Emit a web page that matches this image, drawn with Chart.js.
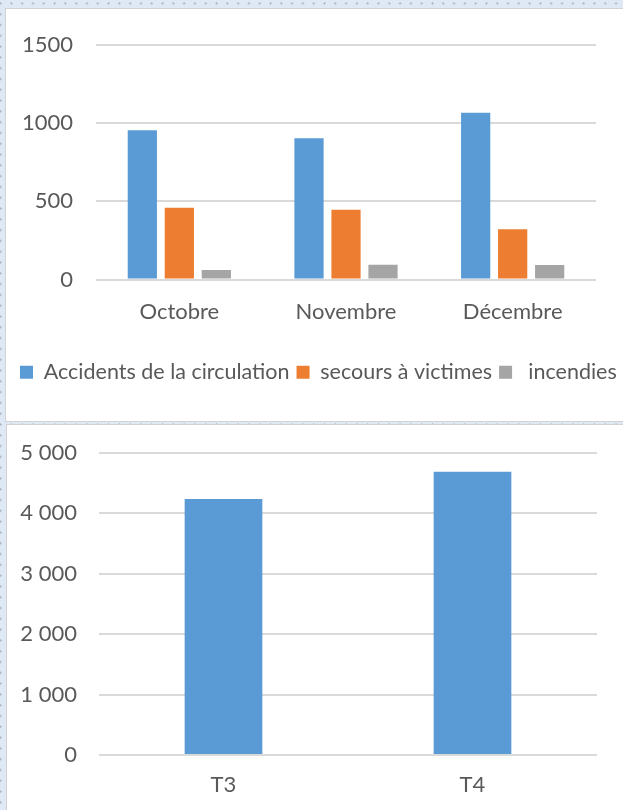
<!DOCTYPE html>
<html lang="fr">
<head>
<meta charset="utf-8">
<title>Interventions</title>
<script src="https://cdn.jsdelivr.net/npm/chart.js@4.4.0/dist/chart.umd.min.js"></script>
<style>
  html, body { margin: 0; padding: 0; }
  body {
    width: 623px;
    height: 810px;
    overflow: hidden;
    position: relative;
    background-color: #dfe9f5;
    background-image: radial-gradient(circle, #aeb8c3 0.9px, transparent 1.4px);
    background-size: 10.8px 10.8px;
    background-position: 6px -2px;
  }
  .panel {
    position: absolute;
    background: #fff;
    border: 1px solid #d2d2d2;
    box-sizing: border-box;
  }
  #p1 { left: 5px; top: 8px; width: 640px; height: 414px; }
  #p2 { left: 6px; top: 424px; width: 640px; height: 400px; }
  canvas { position: absolute; }
  #mois { left: 5px; top: 8px; }
  #trim { left: 6px; top: 417px; }
</style>
</head>
<body>
<div class="panel" id="p1"></div>
<div class="panel" id="p2"></div>
<canvas id="mois" width="630" height="412"></canvas>
<canvas id="trim" width="630" height="393"></canvas>
<script>
// interventions par mois
const mois = ['Octobre', 'Novembre', 'Décembre'];
const accidents = [955, 904, 1066];
const secours = [459, 446, 321];
const incendies = [60, 94, 92];
const ticksMois = [0, 500, 1000, 1500];

// total par trimestre
const trimestres = ['T3', 'T4'];
const totaux = [4238, 4690];
const ticksTrim = [0, 1000, 2000, 3000, 4000, 5000];

const gris = '#595959';
const grille = '#d9d9d9';

Chart.defaults.font.family = 'Lato, "Liberation Sans", sans-serif';
Chart.defaults.font.size = 22;
Chart.defaults.color = gris;
Chart.defaults.animation = false;

function milliers(v) {
  return String(v).replace(/\B(?=(\d{3})+(?!\d))/g, ' ');
}

new Chart(document.getElementById('mois'), {
  type: 'bar',
  data: {
    labels: mois,
    datasets: [
      { label: 'Accidents de la circulation', data: accidents, backgroundColor: '#5b9bd5' },
      { label: 'secours à victimes', data: secours, backgroundColor: '#ed7d31' },
      { label: ' incendies', data: incendies, backgroundColor: '#a5a5a5' }
    ]
  },
  options: {
    responsive: false,
    layout: { padding: { top: 37, left: 8, right: 0, bottom: 27 } },
    datasets: { bar: { categoryPercentage: 0.666, barPercentage: 0.79, borderWidth: 0 } },
    plugins: {
      tooltip: { enabled: false },
      legend: {
        position: 'bottom',
        align: 'start',
        labels: { boxWidth: 13, boxHeight: 13, padding: 7, color: gris, font: { size: 21.5 } }
      }
    },
    scales: {
      x: {
        grid: { display: false },
        border: { display: false },
        ticks: { padding: 11 },
        afterFit(scale) { scale.height = 75; }
      },
      y: {
        min: ticksMois[0],
        max: ticksMois[ticksMois.length - 1],
        afterBuildTicks(scale) { scale.ticks = ticksMois.map(v => ({ value: v })); },
        ticks: { padding: 23, callback: v => String(v) },
        grid: { color: grille, lineWidth: 2, drawTicks: false },
        border: { display: false },
        afterFit(scale) { scale.width = 83; }
      },
      // marge droite sous la zone de tracé, la légende garde toute la largeur
      marge: {
        position: 'right',
        grid: { display: false },
        ticks: { display: false },
        border: { display: false },
        afterFit(scale) { scale.width = 39; }
      }
    }
  }
});

new Chart(document.getElementById('trim'), {
  type: 'bar',
  data: {
    labels: trimestres,
    datasets: [
      { label: 'Total', data: totaux, backgroundColor: '#5b9bd5' }
    ]
  },
  options: {
    responsive: false,
    layout: { padding: { top: 36, left: 0, right: 39, bottom: 0 } },
    datasets: { bar: { categoryPercentage: 0.39, barPercentage: 0.8, borderWidth: 0 } },
    plugins: {
      tooltip: { enabled: false },
      legend: { display: false }
    },
    scales: {
      x: {
        grid: { display: false },
        border: { display: false },
        ticks: { padding: 9 },
        afterFit(scale) { scale.height = 55; }
      },
      y: {
        min: ticksTrim[0],
        max: ticksTrim[ticksTrim.length - 1],
        afterBuildTicks(scale) { scale.ticks = ticksTrim.map(v => ({ value: v })); },
        ticks: { padding: 22, callback: v => milliers(v) },
        grid: { color: grille, lineWidth: 2, drawTicks: false },
        border: { display: false },
        afterFit(scale) { scale.width = 93; }
      }
    }
  }
});
</script>
</body>
</html>
